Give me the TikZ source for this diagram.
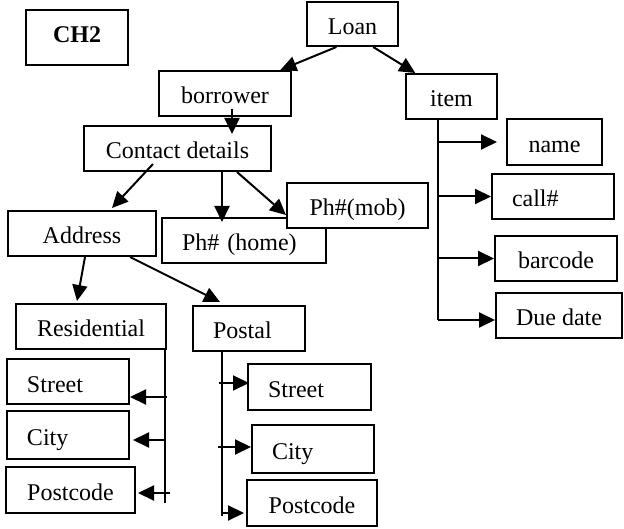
\documentclass[tikz,border=0pt]{standalone}
\usepackage{fontspec}
\setmainfont{Liberation Serif}
\usetikzlibrary{arrows.meta,calc}

\begin{document}
\begin{tikzpicture}[x=1pt, y=-1pt,
  box/.style={draw, line width=2pt, fill=white, inner sep=0pt, font=\fontsize{24pt}{28pt}\selectfont, text height=21pt, text depth=0pt, minimum height=45pt},
  lbox/.style={box, inner xsep=20pt, text width=#1, align=left},
  arr/.style={-{Triangle[length=16pt, width=15pt]}, line width=2pt},
  ln/.style={line width=2pt}]
\useasboundingbox (0,0) rectangle (624,529);
% title
\node[box, minimum width=102pt, minimum height=55pt, text height=11pt, font=\fontsize{24pt}{28pt}\selectfont\bfseries] (ch2) at (77,37.5) {CH2};
% top level
\node[box, minimum width=91pt, minimum height=44pt] (loan) at (352.5,24) {Loan};
\node[box, minimum width=132pt] (borrower) at (225,93.5) {borrower};
\node[box, minimum width=91pt] (item) at (451.5,96.5) {item};
\draw[arr] (loan.235) -- (borrower.23);
\draw[arr] (loan.312) -- (item.147);
% borrower side
\node[box, minimum width=187pt] (contact) at (177.5,148.5) {Contact details};
\draw[arr] ($(borrower.south)+(7,-8)$) -- ($(contact.north)+(54.5,9)$);
\node[box, minimum width=148pt] (address) at (82,233.5) {Address};
\node[lbox=124pt] (home) at (244,240.5) {Ph\# (home)};
\node[box, minimum width=141pt] (mob) at (357.5,205.5) {Ph\#(mob)};
\draw[arr] ($(contact.south)+(-24.5,-8)$) -- ($(address.north)+(30,-2)$);
\draw[arr] ($(contact.south)+(44.5,0)$) -- ($(home.north)+(-22,5)$);
\draw[arr] ($(contact.south)+(59.5,0)$) -- ($(mob.west)+(0,9.5)$);
\node[box, minimum width=150pt] (residential) at (91,326.5) {Residential};
\node[lbox=72pt] (postal) at (249,328.5) {Postal};
\draw[arr] ($(address.south)+(3,0)$) -- ($(residential.north)+(-14,-2)$);
\draw[arr] ($(address.south)+(48,0)$) -- ($(postal.north)+(-29,-3)$);
% residential parts
\node[lbox=82pt] (street1) at (68,381.5) {Street};
\node[lbox=82pt, minimum height=48pt] (city1) at (68,435) {City};
\node[box, minimum width=129pt, minimum height=46pt] (pcode1) at (70.5,490) {Postcode};
\coordinate (rtop) at ($(residential.south east)+(-2,0)$);
\coordinate (rbot) at ($(rtop)+(0,153)$);
\draw[ln] (rtop) -- (rbot);
\coordinate (s1at) at ($(street1.east)+(0,15.5)$);
\coordinate (c1at) at ($(city1.east)+(3,5)$);
\coordinate (p1at) at ($(pcode1.east)+(2,3)$);
\draw[arr] ($(rtop |- s1at)+(2,0)$) -- (s1at);
\draw[arr] (rtop |- c1at) -- (c1at);
\draw[arr] ($(rtop |- p1at)+(5,0)$) -- (p1at);
% postal parts
\node[lbox=83pt, minimum height=46pt] (street2) at (309.5,387) {Street};
\node[lbox=82pt, minimum height=48pt] (city2) at (313,449) {City};
\node[box, minimum width=130pt, minimum height=46pt] (pcode2) at (312,503) {Postcode};
\coordinate (ptop) at ($(postal.south)+(-27,0)$);
\coordinate (pbot) at ($(ptop)+(0,164)$);
\draw[ln] (ptop) -- (pbot);
\coordinate (s2at) at ($(street2.west)+(2,-4)$);
\coordinate (c2at) at ($(city2.west)+(0,-2)$);
\coordinate (p2at) at ($(pcode2.west)+(-2,10)$);
\draw[arr] ($(ptop |- s2at)+(-3,0)$) -- (s2at);
\draw[arr] ($(ptop |- c2at)+(-4,0)$) -- (c2at);
\draw[arr] (ptop |- p2at) -- (p2at);
% item parts
\node[box, minimum width=95pt, minimum height=46pt] (name) at (554.5,142) {name};
\node[lbox=82pt] (call) at (553,196.5) {call\#};
\node[box, minimum width=122pt] (barcode) at (556,258.5) {barcode};
\node[box, minimum width=126pt] (due) at (559,315.5) {Due date};
\coordinate (itop) at ($(item.south)+(-13.5,-2)$);
\coordinate (dueat) at ($(due.west)+(0,4.5)$);
\draw[ln] (itop) -- (itop |- dueat);
\draw[arr] (itop |- name.west) -- ($(name.west)+(-9,0)$);
\draw[arr] (itop |- call.west) -- (call.west);
\draw[arr] (itop |- barcode.west) -- (barcode.west);
\draw[arr] (itop |- dueat) -- (dueat);
\end{tikzpicture}
\end{document}
